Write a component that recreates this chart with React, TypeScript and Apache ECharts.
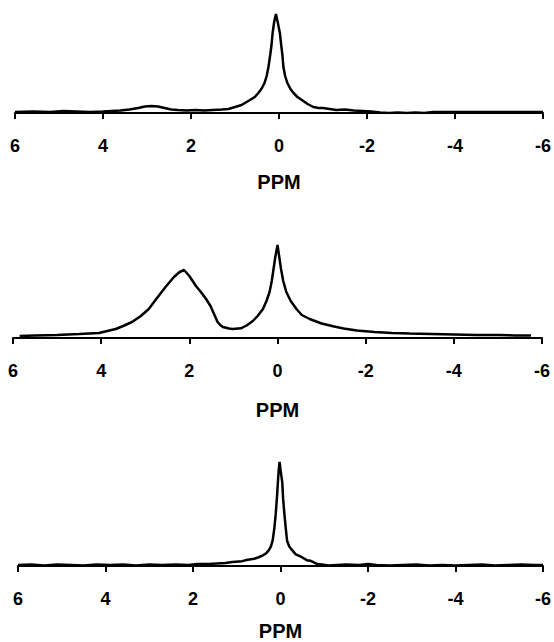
import React, { useEffect, useRef } from "react";
import * as echarts from "echarts";

// Relative intensity (a.u.) vs chemical shift (ppm) for three spectra
const ppm1 = [6.0, 5.6, 5.2, 4.9, 4.6, 4.3, 4.0, 3.8, 3.6, 3.4, 3.2, 3.05, 2.9, 2.75, 2.6, 2.45, 2.3, 2.1, 1.9, 1.7, 1.5, 1.3, 1.15, 1.0, 0.85, 0.66, 0.55, 0.47, 0.4, 0.33, 0.28, 0.24, 0.2, 0.17, 0.145, 0.11, 0.07, 0.03, -0.02, -0.05, -0.08, -0.1, -0.14, -0.19, -0.26, -0.33, -0.42, -0.52, -0.65, -0.78, -0.9, -1.0, -1.15, -1.3, -1.5, -1.7, -1.9, -2.1, -2.3, -2.5, -2.7, -2.9, -3.1, -3.3, -3.5, -3.8, -4.2, -4.6, -5.0, -5.5, -6.0];
const int1 = [0, 0.5, 0, 1, 0.5, 0, 0.5, 1, 1.5, 2.5, 4, 5.5, 6, 5.5, 4, 2.5, 2, 1.5, 2, 1.5, 2, 2.5, 3, 5, 7, 12, 15, 19, 23, 29, 36, 45, 57, 67, 79, 90, 98, 90, 79, 67, 56, 45, 36, 29, 23, 19, 15, 12, 8, 5, 4, 4, 3, 2, 2.5, 1.5, 1, 0.5, -0.5, -1, -0.5, -1, -0.5, -1, 0, 0, 0, 0, 0, 0, 0];

const ppm2 = [5.85, 5.5, 5.0, 4.5, 4.05, 3.67, 3.5, 3.3, 3.1, 2.92, 2.75, 2.54, 2.35, 2.22, 2.12, 2.0, 1.85, 1.72, 1.62, 1.52, 1.47, 1.4, 1.36, 1.3, 1.24, 1.1, 1.02, 0.83, 0.7, 0.56, 0.45, 0.33, 0.25, 0.18, 0.13, 0.09, 0.05, 0.0, -0.04, -0.08, -0.13, -0.2, -0.3, -0.43, -0.55, -0.73, -1.0, -1.26, -1.5, -1.8, -2.2, -2.6, -3.0, -3.5, -4.0, -4.5, -5.0, -5.4, -5.75];
const int2 = [1, 1.5, 2, 3, 4, 8, 11, 15, 21, 28, 38, 50, 60, 65, 67, 61, 51, 44, 38, 31, 26, 19, 15, 12, 10, 8.5, 8, 8.7, 11.5, 16, 21, 28, 36, 45, 56, 68, 80, 92, 80, 68, 56, 45, 36, 28, 22, 18, 13.5, 10.7, 8.5, 6.5, 5, 4, 3.5, 3, 2.5, 2, 2, 1.5, 1.5];

const ppm3 = [6.0, 5.7, 5.4, 5.1, 4.8, 4.5, 4.2, 3.9, 3.6, 3.3, 3.0, 2.7, 2.4, 2.1, 1.9, 1.64, 1.45, 1.26, 1.1, 0.88, 0.75, 0.6, 0.5, 0.4, 0.33, 0.27, 0.22, 0.18, 0.14, 0.11, 0.08, 0.06, 0.04, 0.02, 0.0, -0.04, -0.06, -0.09, -0.12, -0.15, -0.2, -0.27, -0.35, -0.49, -0.6, -0.68, -0.75, -0.84, -0.95, -1.1, -1.3, -1.5, -1.8, -2.0, -2.2, -2.5, -2.8, -3.1, -3.4, -3.7, -4.0, -4.3, -4.6, -4.9, -5.2, -5.5, -5.8, -6.0];
const int3 = [0, 0.5, -0.5, 0.5, 0, -0.5, 0.5, 0, 0.5, -0.5, 0.5, 0, 0.5, 0, 1, 1, 1.5, 2, 3, 4, 5.5, 6.5, 8, 10, 12, 15, 19, 25, 38, 52, 70, 85, 98, 106, 98, 85, 68, 52, 38, 25, 19, 15, 11, 8, 5, 4.5, 3, 1, 0.5, -0.5, 0, 0.5, 0, 1, 0, -0.5, 0, 0.5, -0.5, 0, -0.5, 0, 0.5, -0.5, 0, 0.5, 0, 0];

const ppmTicks = [6, 4, 2, 0, -2, -4, -6];
const axisName = "PPM";

const FONT = "'Liberation Sans', Arial, Helvetica, sans-serif";

export default function App() {
  const ref = useRef<HTMLDivElement>(null);
  useEffect(() => {
    document.body.style.margin = "0";
    if (!ref.current) return;
    const chart = echarts.init(ref.current, undefined, { renderer: "svg" });
    const panels = [
      { x: ppm1, y: int1, left: 15, right: 11, top: 13, bottom: 642 - 113, yMax: 99, nameGap: 59 },
      { x: ppm2, y: int2, left: 13, right: 12, top: 238, bottom: 642 - 338, yMax: 99, nameGap: 62 },
      { x: ppm3, y: int3, left: 18, right: 10, top: 459, bottom: 642 - 569, yMax: 109, nameGap: 55 },
    ];
    const tickMin = ppmTicks[ppmTicks.length - 1];
    const tickMax = ppmTicks[0];
    const tickStep = ppmTicks[0] - ppmTicks[1];
    chart.setOption({
      animation: false,
      backgroundColor: "#fff",
      grid: panels.map((p) => ({ left: p.left, right: p.right, top: p.top, bottom: p.bottom, containLabel: false })),
      xAxis: panels.map((p, i) => ({
        type: "value",
        gridIndex: i,
        inverse: true,
        min: tickMin,
        max: tickMax,
        interval: tickStep,
        name: axisName,
        nameLocation: "middle",
        nameGap: p.nameGap,
        nameTextStyle: { color: "#000", fontSize: 20, fontWeight: "bold", fontFamily: FONT },
        axisLine: { onZero: false, lineStyle: { color: "#000", width: 2 } },
        axisTick: { inside: false, length: 6, lineStyle: { color: "#000", width: 2 } },
        axisLabel: { color: "#000", fontSize: 18, fontWeight: "bold", fontFamily: FONT, margin: 24 },
        splitLine: { show: false },
      })),
      yAxis: panels.map((p, i) => ({
        type: "value",
        gridIndex: i,
        min: -1,
        max: p.yMax,
        show: false,
        splitLine: { show: false },
      })),
      series: panels.map((p, i) => ({
        type: "line",
        xAxisIndex: i,
        yAxisIndex: i,
        data: p.x.map((v, k) => [v, p.y[k]]),
        showSymbol: false,
        symbol: "none",
        smooth: false,
        lineStyle: { color: "#000", width: 2.5 },
      })),
    });
    return () => chart.dispose();
  }, []);
  return <div ref={ref} style={{ width: 554, height: 642 }} />;
}
